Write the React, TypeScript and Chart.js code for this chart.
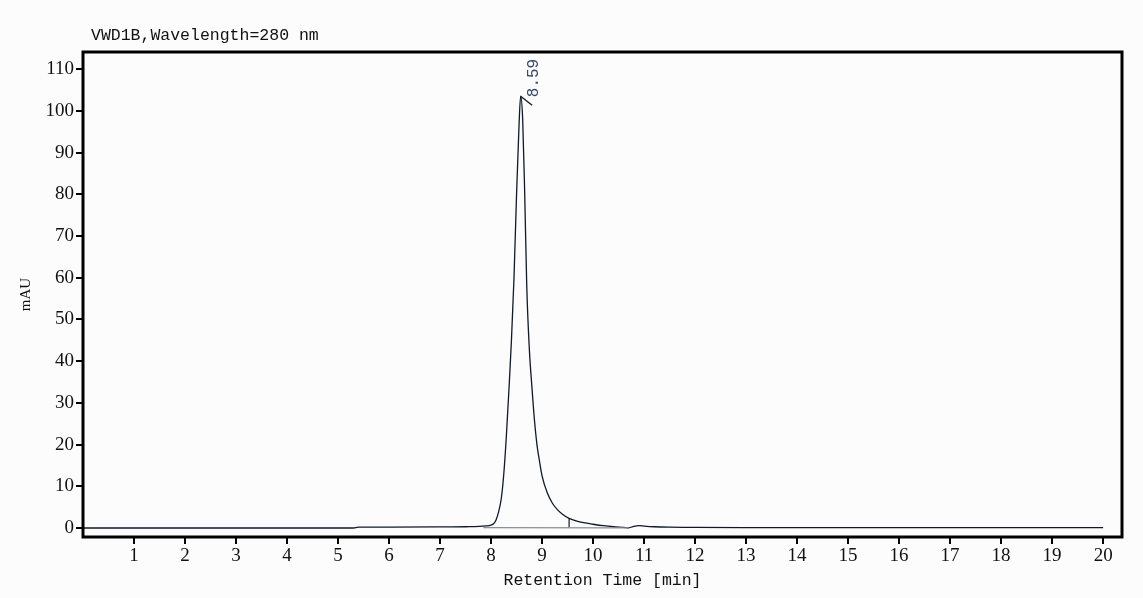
import React, { useRef, useEffect } from "react";
import { Chart, registerables } from "chart.js";

Chart.register(...registerables);

// chromatogram trace (retention time in min, signal in mAU)
const times = [
  0, 5.3, 5.4, 6, 7, 7.5, 7.9, 8.0, 8.05, 8.1, 8.15, 8.2, 8.25, 8.3, 8.35, 8.4, 8.45, 8.5, 8.55,
  8.58, 8.62, 8.66, 8.7, 8.75, 8.8, 8.85, 8.9, 8.95, 9.0, 9.1, 9.2, 9.3, 9.4, 9.53, 9.7, 9.85,
  10.0, 10.2, 10.4, 10.6, 10.7, 10.8, 10.9, 11.0, 11.2, 11.5, 12, 13, 20,
];
const signal = [
  0, 0, 0.2, 0.2, 0.25, 0.3, 0.5, 0.7, 1.0, 2.0, 4.0, 7.0, 13, 22, 33, 45, 60, 80, 97,
  103.5, 98, 80, 58, 43, 34, 26, 20, 16, 12.5, 8.5, 6, 4.4, 3.3, 2.3, 1.6, 1.2,
  0.9, 0.55, 0.3, 0.15, 0.05, 0.4, 0.55, 0.45, 0.3, 0.2, 0.15, 0.1, 0.1,
];

// integration baseline and peak end drop line
const baselineTimes = [7.85, 10.7];
const baselineValues = [0.1, 0.05];
const dropTimes = [9.53, 9.53];
const dropValues = [0.1, 2.3];

// peak annotation
const peakTime = 8.58;
const peakHeight = 103.5;
const peakLabel = "8.59";

const xTicks = [1, 2, 3, 4, 5, 6, 7, 8, 9, 10, 11, 12, 13, 14, 15, 16, 17, 18, 19, 20];
const yTicks = [0, 10, 20, 30, 40, 50, 60, 70, 80, 90, 100, 110];

const titleText = "VWD1B,Wavelength=280 nm";
const xTitle = "Retention Time [min]";
const yTitle = "mAU";

const ink = "#10182a";
const mono = "'Liberation Mono', 'DejaVu Sans Mono', monospace";
const serif = "'Liberation Serif', 'DejaVu Serif', serif";

const decorPlugin = {
  id: "decor",
  afterDatasetsDraw(chart: any) {
    const { ctx, chartArea, scales } = chart;
    const { left, top, right, bottom } = chartArea;
    ctx.save();
    // frame
    ctx.strokeStyle = "#000";
    ctx.lineWidth = 3;
    ctx.strokeRect(left, top, right - left, bottom - top);

    // peak leader + label
    const px = scales.x.getPixelForValue(peakTime);
    const py = scales.y.getPixelForValue(peakHeight);
    ctx.strokeStyle = ink;
    ctx.lineWidth = 1.3;
    ctx.beginPath();
    ctx.moveTo(px, py);
    ctx.lineTo(px + 11.5, py + 9);
    ctx.stroke();
    ctx.translate(px + 17, py + 1);
    ctx.rotate(-Math.PI / 2);
    ctx.fillStyle = "#34466a";
    ctx.font = `16px ${mono}`;
    ctx.textAlign = "left";
    ctx.textBaseline = "alphabetic";
    ctx.fillText(peakLabel, 0, 0);
    ctx.restore();

    ctx.save();
    ctx.fillStyle = "#111";
    ctx.font = `16.5px ${mono}`;
    ctx.textAlign = "left";
    ctx.textBaseline = "alphabetic";
    ctx.fillText(titleText, left + 8, 40);
    ctx.textAlign = "center";
    ctx.fillText(xTitle, (left + right) / 2, 585);
    ctx.translate(30, (top + bottom) / 2);
    ctx.rotate(-Math.PI / 2);
    ctx.font = `15px ${serif}`;
    ctx.textBaseline = "alphabetic";
    ctx.fillText(yTitle, 0, 0);
    ctx.restore();
  },
};

const App: React.FC = () => {
  const canvasRef = useRef<HTMLCanvasElement | null>(null);

  useEffect(() => {
    if (!canvasRef.current) return;
    document.body.style.margin = "0";
    document.body.style.background = "#fcfcfc";

    const trace = times.map((t, i) => ({ x: t, y: signal[i] }));
    const baseline = baselineTimes.map((t, i) => ({ x: t, y: baselineValues[i] }));
    const drop = dropTimes.map((t, i) => ({ x: t, y: dropValues[i] }));

    const chart = new Chart(canvasRef.current, {
      type: "line",
      data: {
        datasets: [
          {
            data: baseline,
            borderColor: "#8a8e96",
            borderWidth: 1.3,
            pointRadius: 0,
          },
          {
            data: drop,
            borderColor: ink,
            borderWidth: 1.2,
            pointRadius: 0,
          },
          {
            data: trace,
            borderColor: ink,
            borderWidth: 1.3,
            pointRadius: 0,
            cubicInterpolationMode: "monotone",
          },
        ],
      },
      options: {
        animation: false,
        responsive: false,
        layout: { padding: { top: 52, right: 21, left: 0, bottom: 0 } },
        plugins: { legend: { display: false }, tooltip: { enabled: false } },
        scales: {
          x: {
            type: "linear",
            min: 0,
            max: 20.37,
            border: { display: false },
            grid: { drawOnChartArea: false, color: "#000", lineWidth: 2, tickLength: 7 },
            ticks: { color: "#111", font: { family: serif, size: 19 }, padding: 1, maxRotation: 0 },
            afterBuildTicks: (scale: any) => {
              scale.ticks = xTicks.map((v) => ({ value: v }));
            },
            afterFit: (scale: any) => {
              scale.height = 61;
            },
          },
          y: {
            type: "linear",
            min: -2.16,
            max: 114.1,
            border: { display: false },
            grid: { drawOnChartArea: false, color: "#000", lineWidth: 2, tickLength: 7 },
            ticks: { color: "#111", font: { family: serif, size: 19 }, padding: 2 },
            afterBuildTicks: (scale: any) => {
              scale.ticks = yTicks.map((v) => ({ value: v }));
            },
            afterFit: (scale: any) => {
              scale.width = 83;
            },
          },
        },
      },
      plugins: [decorPlugin],
    });

    return () => chart.destroy();
  }, []);

  return <canvas ref={canvasRef} width={1143} height={598} />;
};

export default App;
